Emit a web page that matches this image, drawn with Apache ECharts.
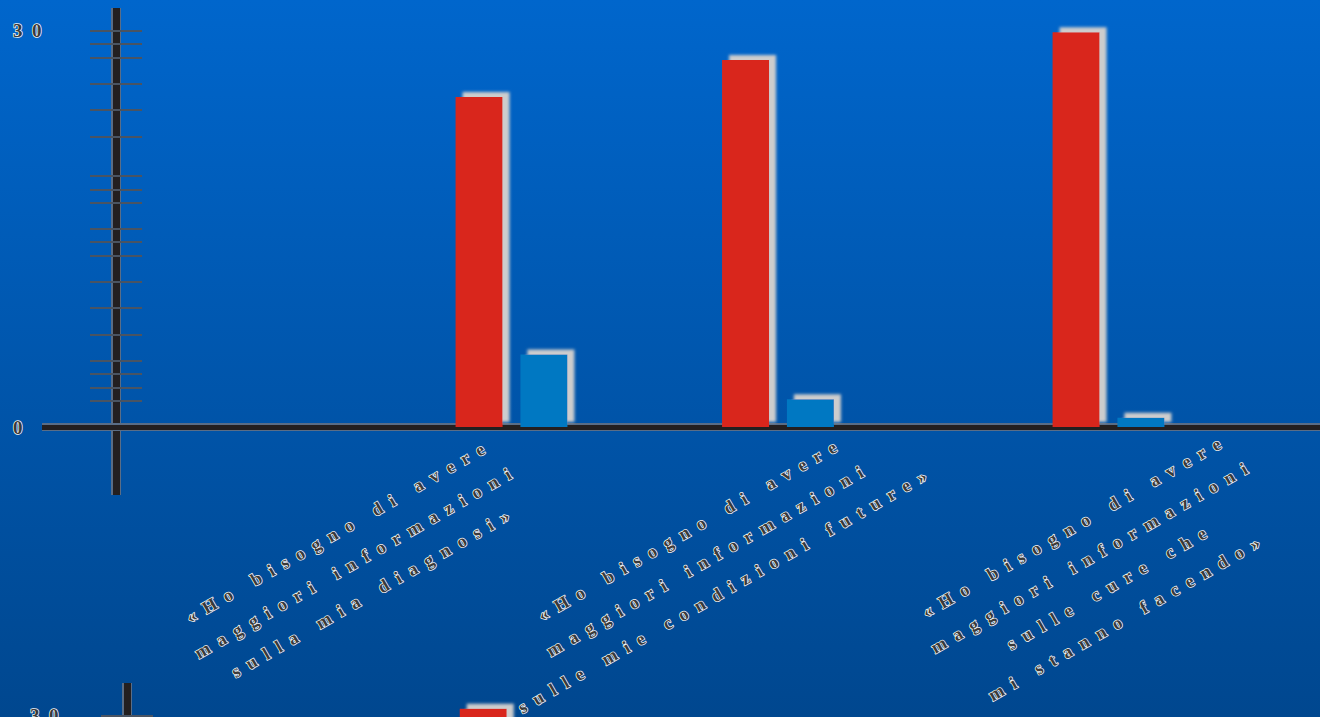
<!DOCTYPE html>
<html>
<head>
<meta charset="utf-8">
<script src="https://cdn.jsdelivr.net/npm/echarts@6/dist/echarts.min.js"></script>
<style>
  html, body { margin: 0; padding: 0; background: #0058b0; }
  #chart { width: 1320px; height: 717px; }
  #chart text { letter-spacing: 9.5px; }
</style>
</head>
<body>
<div id="chart"></div>
<script>
// ---- data ----
const categories = [
  '«Ho bisogno di avere\nmaggiori informazioni\nsulla mia diagnosi»',
  '«Ho bisogno di avere\nmaggiori informazioni\nsulle mie condizioni future»',
  '«Ho bisogno di avere\nmaggiori informazioni\nsulle cure che\nmi stanno facendo»'
];
const redValues = [25.0, 27.8, 29.9];
const blueValues = [5.5, 2.1, 0.7];
const yTickValues = [30, 29, 28, 26, 24, 22, 19, 18, 17, 15, 14, 13, 11, 9, 7, 5, 4, 3, 2];
const yLabelValues = [0, 30];
// second chart of the slide, only its top edge is visible
const lowerRedValues = [30.5, null, null];
const lowerTickValues = [30];
const lowerLabelValues = [30];

// ---- layout (irregular group placement of the original slide) ----
const groupCenters = [511.5, 778, 1108.5];
const labelCenters = [357, 709, 1102];
const labelMargins = [134, 132, 144];

// ---- styling helpers ----
const AXIS_DARK = '#231f20';
const AXIS_EDGE = '#5a6d86';
const textStyle = {
  fontFamily: 'Liberation Serif',
  fontWeight: 'bold',
  color: '#3a3a3a',
  textBorderColor: '#f4f4f4',
  textBorderWidth: 1.5
};
const barShadow = {
  shadowColor: 'rgba(205,205,205,1)',
  shadowBlur: 3,
  shadowOffsetX: 7,
  shadowOffsetY: -5
};
const upper = { top: 8, height: 487, min: -5.15, max: 31.74 };
const lower = { top: 683, height: 487, min: -5.15, max: 32.5 };

const grids = [], xAxes = [], yAxes = [], series = [];
function addGrid(g) {
  grids.push(Object.assign({ outerBoundsMode: 'none', containLabel: false }, g));
  return grids.length - 1;
}
function addX(a) { xAxes.push(a); return xAxes.length - 1; }
function addY(a) { yAxes.push(a); return yAxes.length - 1; }

function hiddenX(gridIndex, data) {
  return { type: 'category', gridIndex, data, show: false };
}
function hiddenY(gridIndex, s) {
  return { type: 'value', gridIndex, min: s.min, max: s.max, show: false, splitLine: { show: false } };
}
// frame axis: inner part (edge-coloured wide line + inside ticks) and outer part (dark line + outside ticks + labels)
function frameY(gridIndex, s, ticks, labels, offset, margin, inner) {
  return {
    type: 'value', gridIndex, position: 'left', offset,
    min: s.min, max: s.max,
    splitLine: { show: false },
    axisLine: {
      show: true, onZero: false,
      lineStyle: inner ? { color: AXIS_EDGE, width: 10, cap: 'butt' } : { color: AXIS_DARK, width: 7, cap: 'butt' }
    },
    axisTick: {
      show: true, inside: inner, length: 26, customValues: ticks,
      lineStyle: { color: '#4a5462', width: 2 }
    },
    axisLabel: inner ? { show: false } : Object.assign({
      show: true, customValues: labels, align: 'left', verticalAlign: 'middle',
      margin, fontSize: 19
    }, textStyle)
  };
}
function frameX(gridIndex, position, lineStyle) {
  return {
    type: 'category', gridIndex, position, data: categories,
    axisLine: { show: true, onZero: true, lineStyle },
    axisTick: { show: false }, axisLabel: { show: false }, splitLine: { show: false }
  };
}

// upper frame (axes of the visible chart)
const gFrame = addGrid({ left: 42, right: 0, top: upper.top, height: upper.height });
addX(frameX(gFrame, 'bottom', { color: AXIS_EDGE, width: 8, cap: 'butt' }));
addX(frameX(gFrame, 'top', { color: AXIS_DARK, width: 5, cap: 'butt' }));
addY(frameY(gFrame, upper, yTickValues, yLabelValues, -74, 103, true));
addY(frameY(gFrame, upper, yTickValues, yLabelValues, -74, 103, false));

// one grid per category group for bars, one per category for its label
categories.forEach((cat, i) => {
  const gb = addGrid({ left: groupCenters[i] - 149, width: 298, top: upper.top, height: upper.height });
  const xb = addX(hiddenX(gb, [cat]));
  const yb = addY(hiddenY(gb, upper));
  series.push({
    type: 'bar', name: 'Serie 1', xAxisIndex: xb, yAxisIndex: yb, data: [redValues[i]],
    barWidth: 47, barGap: '38%',
    itemStyle: Object.assign({ color: '#d9261c' }, barShadow)
  });
  series.push({
    type: 'bar', name: 'Serie 2', xAxisIndex: xb, yAxisIndex: yb, data: [blueValues[i]],
    barWidth: 47, barGap: '38%',
    itemStyle: Object.assign({ color: '#0078c2' }, barShadow)
  });

  const gl = addGrid({ left: labelCenters[i] - 150, width: 300, top: 100, bottom: 290 });
  addX({
    type: 'category', gridIndex: gl, data: [cat],
    axisLine: { show: false, onZero: false }, axisTick: { show: false }, splitLine: { show: false },
    axisLabel: Object.assign({
      interval: 0, rotate: 30, align: 'center', verticalAlign: 'middle',
      margin: labelMargins[i], fontSize: 18, lineHeight: 35
    }, textStyle)
  });
  addY({ type: 'value', gridIndex: gl, min: 0, max: 1, show: false });
});

// lower chart (cut by the bottom edge)
const gLowFrame = addGrid({ left: 127, right: 0, top: lower.top, height: lower.height });
addX(hiddenX(gLowFrame, categories));
addY(frameY(gLowFrame, lower, lowerTickValues, lowerLabelValues, 0, 97, true));
addY(frameY(gLowFrame, lower, lowerTickValues, lowerLabelValues, 0, 97, false));
const gLowBars = addGrid({ left: 334, right: 90.5, top: lower.top, height: lower.height });
const xLow = addX(hiddenX(gLowBars, categories));
const yLow = addY(hiddenY(gLowBars, lower));
series.push({
  type: 'bar', name: 'Serie 1 (grafico 2)', xAxisIndex: xLow, yAxisIndex: yLow, data: lowerRedValues,
  barWidth: 47,
  itemStyle: Object.assign({ color: '#d9261c' }, barShadow)
});

const option = {
  animation: false,
  backgroundColor: {
    type: 'linear', x: 0, y: 0, x2: 0, y2: 1,
    colorStops: [{ offset: 0, color: '#0066cc' }, { offset: 1, color: '#00478f' }]
  },
  grid: grids,
  xAxis: xAxes,
  yAxis: yAxes,
  series: series
};

const chart = echarts.init(document.getElementById('chart'), null, { renderer: 'svg' });
chart.setOption(option);
</script>
</body>
</html>
